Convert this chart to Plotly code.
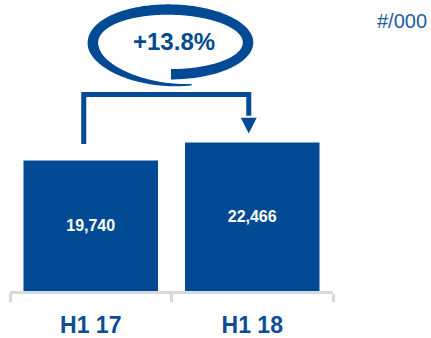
import numpy as np
import plotly.graph_objects as go

# ---- data ----
categories = ["H1 17", "H1 18"]
values = [19740, 22466]
value_labels = ["19,740", "22,466"]
growth_label = "+13.8%"
unit_label = "#/000"

# ---- styling ----
BLUE = "#024B94"
TEXT_BLUE = "#0B4E97"
UNIT_BLUE = "#1F5CA8"
GRAY = "#D9D9D9"
FONT = "Liberation Sans, Arial, sans-serif"

W, H = 431, 338
ML, MR, MT, MB = 10, 98, 0, 44
PW, PH = W - ML - MR, H - MT - MB
Y_MAX = 44000
px_per_unit = PH / Y_MAX
cat_px = PW / len(categories)


def paper_x(px):
    return (px - ML) / PW


def paper_y(py):
    return (H - MB - py) / PH


fig = go.Figure()
fig.add_trace(go.Bar(
    x=categories, y=values, text=value_labels,
    textposition="inside", insidetextanchor="middle",
    textfont=dict(family=FONT, size=16, color="white", weight="bold"),
    marker=dict(color=BLUE, line=dict(width=0)),
    width=0.833, hoverinfo="skip",
))

# ---- growth arrow (data coords derived from the values) ----
xl = 0 - 7 / cat_px
xr = 1 - 3.5 / cat_px
y_left_bottom = values[0] + 16.5 / px_per_unit
y_top = max(values) + 48.5 / px_per_unit
y_tip = values[1] + 9 / px_per_unit
y_base = y_tip + 16 / px_per_unit
half = 8 / cat_px

shapes = [
    dict(type="path", xref="x", yref="y",
         path=f"M {xl},{y_left_bottom} L {xl},{y_top} L {xr},{y_top} L {xr},{y_base + 2/px_per_unit}",
         line=dict(color=BLUE, width=5), fillcolor="rgba(0,0,0,0)"),
    dict(type="path", xref="x", yref="y",
         path=f"M {xr-half},{y_base} L {xr+half},{y_base} L {xr},{y_tip} Z",
         line=dict(width=0), fillcolor=BLUE),
]

# ---- swoosh ellipse around growth label ----
cx, cy = 171, 43
th = np.radians(np.linspace(-90, 285, 300))
s = np.linspace(0, 1, 300)
a = 77 + 3 * s ** 3
b = 32 + 12 * s ** 3
w = np.where(s < 0.75, 10.5, 10.5 - 9.0 * (s - 0.75) / 0.25)
ox = cx + (a + w / 2) * np.cos(th)
oy = cy - (b + w / 2) * np.sin(th)
ix = cx + (a - w / 2) * np.cos(th)
iy = cy - (b - w / 2) * np.sin(th)
pts = list(zip(ox, oy)) + list(zip(ix[::-1], iy[::-1]))
path = "M " + " L ".join(f"{paper_x(x):.5f},{paper_y(y):.5f}" for x, y in pts) + " Z"
shapes.append(dict(type="path", xref="paper", yref="paper", path=path,
                   line=dict(width=0), fillcolor=BLUE))

annotations = [
    dict(text=growth_label, xref="paper", yref="paper",
         x=paper_x(174), y=paper_y(42), showarrow=False,
         xanchor="center", yanchor="middle",
         font=dict(family=FONT, size=24, color=BLUE, weight="bold")),
    dict(text=unit_label, xref="paper", yref="paper",
         x=paper_x(402), y=paper_y(21), showarrow=False,
         xanchor="center", yanchor="middle",
         font=dict(family=FONT, size=20, color=UNIT_BLUE)),
]

fig.update_layout(
    width=W, height=H,
    margin=dict(l=ML, r=MR, t=MT, b=MB, pad=0),
    paper_bgcolor="white", plot_bgcolor="white",
    showlegend=False, shapes=shapes, annotations=annotations,
    xaxis=dict(
        showline=True, linecolor=GRAY, linewidth=3,
        ticks="outside", tickson="boundaries", ticklen=8, tickwidth=3, tickcolor=GRAY,
        ticklabelstandoff=11,
        tickfont=dict(family=FONT, size=23, color=TEXT_BLUE, weight="bold"),
        showgrid=False, zeroline=False, fixedrange=True,
    ),
    yaxis=dict(range=[0, Y_MAX], visible=False, showgrid=False, zeroline=False, fixedrange=True),
)

fig.write_html("out.html", config={"displayModeBar": False})
